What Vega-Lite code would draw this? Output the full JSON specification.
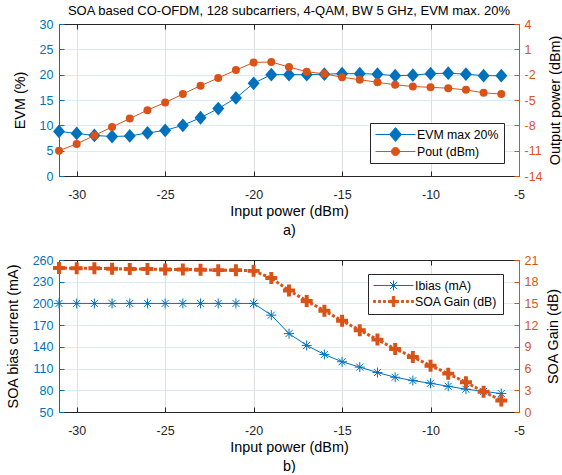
{
  "$schema": "https://vega.github.io/schema/vega-lite/v6.json",
  "background": "white",
  "padding": {"left": 5, "top": 5, "right": 0, "bottom": 0},
  "config": {
    "font": "Liberation Sans",
    "view": {"stroke": null},
    "axis": {
      "labelFont": "Liberation Sans",
      "labelFontSize": 12.5,
      "titleFont": "Liberation Sans",
      "titleFontSize": 14.4,
      "titleFontWeight": "normal",
      "titleColor": "#000000",
      "tickSize": -5,
      "tickWidth": 1,
      "domainWidth": 1,
      "labelFlush": false,
      "labelOverlap": false,
      "labelExpr": "'' + datum.value"
    },
    "legend": {
      "labelFont": "Liberation Sans",
      "labelFontSize": 12.3,
      "labelColor": "#000000",
      "strokeColor": "#262626",
      "fillColor": "#ffffff",
      "padding": 5,
      "rowPadding": 1,
      "symbolSize": 144,
      "symbolStrokeWidth": 1,
      "symbolOffset": 14,
      "labelOffset": 15
    }
  },
  "datasets": {
    "evmPanel": [
      {"p": -31, "s": "EVM max 20%", "v": 8.8},
      {"p": -30, "s": "EVM max 20%", "v": 8.4},
      {"p": -29, "s": "EVM max 20%", "v": 8.0},
      {"p": -28, "s": "EVM max 20%", "v": 7.8},
      {"p": -27, "s": "EVM max 20%", "v": 7.9},
      {"p": -26, "s": "EVM max 20%", "v": 8.5},
      {"p": -25, "s": "EVM max 20%", "v": 9.0},
      {"p": -24, "s": "EVM max 20%", "v": 10.0},
      {"p": -23, "s": "EVM max 20%", "v": 11.5},
      {"p": -22, "s": "EVM max 20%", "v": 13.3},
      {"p": -21, "s": "EVM max 20%", "v": 15.4},
      {"p": -20, "s": "EVM max 20%", "v": 18.3},
      {"p": -19, "s": "EVM max 20%", "v": 20.0},
      {"p": -18, "s": "EVM max 20%", "v": 20.0},
      {"p": -17, "s": "EVM max 20%", "v": 20.0},
      {"p": -16, "s": "EVM max 20%", "v": 20.1},
      {"p": -15, "s": "EVM max 20%", "v": 20.2},
      {"p": -14, "s": "EVM max 20%", "v": 20.2},
      {"p": -13, "s": "EVM max 20%", "v": 20.1},
      {"p": -12, "s": "EVM max 20%", "v": 19.8},
      {"p": -11, "s": "EVM max 20%", "v": 19.9},
      {"p": -10, "s": "EVM max 20%", "v": 20.2},
      {"p": -9, "s": "EVM max 20%", "v": 20.3},
      {"p": -8, "s": "EVM max 20%", "v": 20.1},
      {"p": -7, "s": "EVM max 20%", "v": 19.8},
      {"p": -6, "s": "EVM max 20%", "v": 19.8},
      {"p": -31, "s": "Pout (dBm)", "v": -11.0},
      {"p": -30, "s": "Pout (dBm)", "v": -10.2},
      {"p": -29, "s": "Pout (dBm)", "v": -9.2},
      {"p": -28, "s": "Pout (dBm)", "v": -8.2},
      {"p": -27, "s": "Pout (dBm)", "v": -7.2},
      {"p": -26, "s": "Pout (dBm)", "v": -6.2},
      {"p": -25, "s": "Pout (dBm)", "v": -5.3},
      {"p": -24, "s": "Pout (dBm)", "v": -4.3},
      {"p": -23, "s": "Pout (dBm)", "v": -3.3},
      {"p": -22, "s": "Pout (dBm)", "v": -2.4},
      {"p": -21, "s": "Pout (dBm)", "v": -1.45},
      {"p": -20, "s": "Pout (dBm)", "v": -0.55},
      {"p": -19, "s": "Pout (dBm)", "v": -0.5},
      {"p": -18, "s": "Pout (dBm)", "v": -1.1},
      {"p": -17, "s": "Pout (dBm)", "v": -1.65},
      {"p": -16, "s": "Pout (dBm)", "v": -1.9},
      {"p": -15, "s": "Pout (dBm)", "v": -2.3},
      {"p": -14, "s": "Pout (dBm)", "v": -2.6},
      {"p": -13, "s": "Pout (dBm)", "v": -2.9},
      {"p": -12, "s": "Pout (dBm)", "v": -3.2},
      {"p": -11, "s": "Pout (dBm)", "v": -3.4},
      {"p": -10, "s": "Pout (dBm)", "v": -3.5},
      {"p": -9, "s": "Pout (dBm)", "v": -3.6},
      {"p": -8, "s": "Pout (dBm)", "v": -3.8},
      {"p": -7, "s": "Pout (dBm)", "v": -4.15},
      {"p": -6, "s": "Pout (dBm)", "v": -4.3}
    ],
    "soaPanel": [
      {"p": -31, "s": "Ibias (mA)", "v": 200},
      {"p": -30, "s": "Ibias (mA)", "v": 200},
      {"p": -29, "s": "Ibias (mA)", "v": 200},
      {"p": -28, "s": "Ibias (mA)", "v": 200},
      {"p": -27, "s": "Ibias (mA)", "v": 200},
      {"p": -26, "s": "Ibias (mA)", "v": 200},
      {"p": -25, "s": "Ibias (mA)", "v": 200},
      {"p": -24, "s": "Ibias (mA)", "v": 200},
      {"p": -23, "s": "Ibias (mA)", "v": 200},
      {"p": -22, "s": "Ibias (mA)", "v": 200},
      {"p": -21, "s": "Ibias (mA)", "v": 200},
      {"p": -20, "s": "Ibias (mA)", "v": 200},
      {"p": -19, "s": "Ibias (mA)", "v": 183.8},
      {"p": -18, "s": "Ibias (mA)", "v": 158.3},
      {"p": -17, "s": "Ibias (mA)", "v": 142},
      {"p": -16, "s": "Ibias (mA)", "v": 129.5},
      {"p": -15, "s": "Ibias (mA)", "v": 119.4},
      {"p": -14, "s": "Ibias (mA)", "v": 112},
      {"p": -13, "s": "Ibias (mA)", "v": 104.5},
      {"p": -12, "s": "Ibias (mA)", "v": 98},
      {"p": -11, "s": "Ibias (mA)", "v": 93.4},
      {"p": -10, "s": "Ibias (mA)", "v": 89.7},
      {"p": -9, "s": "Ibias (mA)", "v": 85.5},
      {"p": -8, "s": "Ibias (mA)", "v": 81.5},
      {"p": -7, "s": "Ibias (mA)", "v": 78.5},
      {"p": -6, "s": "Ibias (mA)", "v": 75.5},
      {"p": -31, "s": "SOA Gain (dB)", "v": 19.9},
      {"p": -30, "s": "SOA Gain (dB)", "v": 19.85},
      {"p": -29, "s": "SOA Gain (dB)", "v": 19.85},
      {"p": -28, "s": "SOA Gain (dB)", "v": 19.8},
      {"p": -27, "s": "SOA Gain (dB)", "v": 19.75},
      {"p": -26, "s": "SOA Gain (dB)", "v": 19.75},
      {"p": -25, "s": "SOA Gain (dB)", "v": 19.7},
      {"p": -24, "s": "SOA Gain (dB)", "v": 19.7},
      {"p": -23, "s": "SOA Gain (dB)", "v": 19.65},
      {"p": -22, "s": "SOA Gain (dB)", "v": 19.6},
      {"p": -21, "s": "SOA Gain (dB)", "v": 19.6},
      {"p": -20, "s": "SOA Gain (dB)", "v": 19.5},
      {"p": -19, "s": "SOA Gain (dB)", "v": 18.5},
      {"p": -18, "s": "SOA Gain (dB)", "v": 16.8},
      {"p": -17, "s": "SOA Gain (dB)", "v": 15.35},
      {"p": -16, "s": "SOA Gain (dB)", "v": 14.0},
      {"p": -15, "s": "SOA Gain (dB)", "v": 12.6},
      {"p": -14, "s": "SOA Gain (dB)", "v": 11.3},
      {"p": -13, "s": "SOA Gain (dB)", "v": 10.0},
      {"p": -12, "s": "SOA Gain (dB)", "v": 8.7},
      {"p": -11, "s": "SOA Gain (dB)", "v": 7.6},
      {"p": -10, "s": "SOA Gain (dB)", "v": 6.4},
      {"p": -9, "s": "SOA Gain (dB)", "v": 5.3},
      {"p": -8, "s": "SOA Gain (dB)", "v": 4.1},
      {"p": -7, "s": "SOA Gain (dB)", "v": 2.8},
      {"p": -6, "s": "SOA Gain (dB)", "v": 1.6}
    ]
  },
  "spacing": 17,
  "resolve": {"scale": {"fill": "independent", "stroke": "independent", "shape": "independent"}},
  "vconcat": [
    {
      "width": 460,
      "height": 152,
      "title": {
        "text": "SOA based CO-OFDM, 128 subcarriers, 4-QAM, BW 5 GHz, EVM max. 20%",
        "fontSize": 13,
        "fontWeight": "normal",
        "color": "#000000",
        "anchor": "middle",
        "frame": "group",
        "offset": 0
      },
      "data": {"name": "evmPanel"},
      "resolve": {"scale": {"y": "independent"}, "axis": {"x": "independent"}},
      "layer": [
        {
          "transform": [{"filter": "datum.s === 'EVM max 20%'"}],
          "encoding": {
            "x": {
              "field": "p", "type": "quantitative",
              "scale": {"domain": [-31, -5], "nice": false, "zero": false},
              "axis": {
                "orient": "bottom", "values": [-30, -25, -20, -15, -10, -5],
                "title": ["Input power (dBm)", "a)"], "titleLineHeight": 19, "titlePadding": 4,
                "grid": true, "gridColor": "#dfdfdf",
                "domainColor": "#262626", "tickColor": "#262626", "labelColor": "#262626",
                "labelPadding": 17
              }
            },
            "y": {
              "field": "v", "type": "quantitative",
              "scale": {"domain": [0, 30], "nice": false, "zero": false},
              "axis": {
                "orient": "left", "values": [0, 5, 10, 15, 20, 25, 30], "title": "EVM (%)",
                "grid": true, "gridColor": "#d9eaf5",
                "domainColor": "#0072BD", "tickColor": "#0072BD", "labelColor": "#0072BD",
                "labelPadding": 11, "titlePadding": 12
              }
            }
          },
          "layer": [
            {"mark": {"type": "line", "color": "#0072BD", "strokeWidth": 1}},
            {"mark": {"type": "point", "shape": "M0,-1.15L1,0L0,1.15L-1,0Z", "filled": true, "size": 144, "color": "#0072BD", "opacity": 1}}
          ]
        },
        {
          "transform": [{"filter": "datum.s === 'Pout (dBm)'"}],
          "encoding": {
            "x": {
              "field": "p", "type": "quantitative",
              "axis": {
                "orient": "top", "values": [-30, -25, -20, -15, -10, -5], "title": null,
                "labels": false, "grid": false, "domainColor": "#262626", "tickColor": "#262626"
              }
            },
            "y": {
              "field": "v", "type": "quantitative",
              "scale": {"domain": [-14, 4], "nice": false, "zero": false},
              "axis": {
                "orient": "right", "values": [-14, -11, -8, -5, -2, 1, 4], "title": "Output power (dBm)",
                "titleAngle": 270, "titleBaseline": "top", "grid": false,
                "domainColor": "#D95319", "tickColor": "#D95319", "labelColor": "#D95319",
                "labelPadding": 10, "titlePadding": 6
              }
            }
          },
          "layer": [
            {"mark": {"type": "line", "color": "#D95319", "strokeWidth": 1}},
            {"mark": {"type": "point", "shape": "circle", "filled": true, "size": 64, "color": "#D95319", "opacity": 1}},
            {
              "transform": [{"filter": "false"}],
              "mark": {"type": "point", "filled": true, "opacity": 1, "size": 144, "strokeWidth": 1},
              "encoding": {
                "fill": {
                  "field": "s", "type": "nominal",
                  "scale": {"domain": ["EVM max 20%", "Pout (dBm)"], "range": ["#0072BD", "#D95319"]},
                  "legend": {"title": null, "orient": "none", "legendX": 311, "legendY": 99}
                },
                "stroke": {
                  "field": "s", "type": "nominal",
                  "scale": {"domain": ["EVM max 20%", "Pout (dBm)"], "range": ["#0072BD", "#D95319"]},
                  "legend": {"title": null, "orient": "none", "legendX": 311, "legendY": 99}
                },
                "shape": {
                  "field": "s", "type": "nominal",
                  "scale": {
                    "domain": ["EVM max 20%", "Pout (dBm)"],
                    "range": [
                      "M-3.33,0H3.33M0,-1.15L1,0L0,1.15L-1,0Z",
                      "M-3.33,0H3.33M0.67,0A0.67,0.67,0,1,1,-0.67,0A0.67,0.67,0,1,1,0.67,0Z"
                    ]
                  },
                  "legend": {"title": null, "orient": "none", "legendX": 311, "legendY": 99}
                }
              }
            }
          ]
        }
      ]
    },
    {
      "width": 460,
      "height": 152,
      "data": {"name": "soaPanel"},
      "resolve": {"scale": {"y": "independent"}, "axis": {"x": "independent"}},
      "layer": [
        {
          "transform": [{"filter": "datum.s === 'Ibias (mA)'"}],
          "encoding": {
            "x": {
              "field": "p", "type": "quantitative",
              "scale": {"domain": [-31, -5], "nice": false, "zero": false},
              "axis": {
                "orient": "bottom", "values": [-30, -25, -20, -15, -10, -5],
                "title": ["Input power (dBm)", "b)"], "titleLineHeight": 19, "titlePadding": 4,
                "grid": true, "gridColor": "#dfdfdf",
                "domainColor": "#262626", "tickColor": "#262626", "labelColor": "#262626",
                "labelPadding": 17
              }
            },
            "y": {
              "field": "v", "type": "quantitative",
              "scale": {"domain": [50, 260], "nice": false, "zero": false},
              "axis": {
                "orient": "left", "values": [50, 80, 110, 140, 170, 200, 230, 260], "title": "SOA bias current (mA)",
                "grid": true, "gridColor": "#d9eaf5",
                "domainColor": "#0072BD", "tickColor": "#0072BD", "labelColor": "#0072BD",
                "labelPadding": 11, "titlePadding": 12
              }
            }
          },
          "layer": [
            {"mark": {"type": "line", "color": "#0072BD", "strokeWidth": 1}},
            {"mark": {"type": "point", "shape": "M-1,0H1M0,-1V1M-0.7,-0.7L0.7,0.7M-0.7,0.7L0.7,-0.7", "filled": false, "size": 100, "strokeWidth": 1, "color": "#0072BD", "opacity": 1}}
          ]
        },
        {
          "transform": [{"filter": "datum.s === 'SOA Gain (dB)'"}],
          "encoding": {
            "x": {
              "field": "p", "type": "quantitative",
              "axis": {
                "orient": "top", "values": [-30, -25, -20, -15, -10, -5], "title": null,
                "labels": false, "grid": false, "domainColor": "#262626", "tickColor": "#262626"
              }
            },
            "y": {
              "field": "v", "type": "quantitative",
              "scale": {"domain": [0, 21], "nice": false, "zero": false},
              "axis": {
                "orient": "right", "values": [0, 3, 6, 9, 12, 15, 18, 21], "title": "SOA Gain (dB)",
                "titleAngle": 270, "titleBaseline": "top", "grid": false,
                "domainColor": "#D95319", "tickColor": "#D95319", "labelColor": "#D95319",
                "labelPadding": 10, "titlePadding": 9
              }
            }
          },
          "layer": [
            {"mark": {"type": "line", "color": "#D95319", "strokeWidth": 3, "strokeDash": [3, 2]}},
            {"mark": {"type": "point", "shape": "M-1,-0.33H-0.33V-1H0.33V-0.33H1V0.33H0.33V1H-0.33V0.33H-1Z", "filled": true, "size": 144, "color": "#D95319", "opacity": 1}},
            {
              "transform": [{"filter": "false"}],
              "mark": {"type": "point", "filled": true, "opacity": 1, "size": 144, "strokeWidth": 1},
              "encoding": {
                "fill": {
                  "field": "s", "type": "nominal",
                  "scale": {"domain": ["Ibias (mA)", "SOA Gain (dB)"], "range": ["#0072BD", "#D95319"]},
                  "legend": {"title": null, "orient": "none", "legendX": 309, "legendY": 14}
                },
                "stroke": {
                  "field": "s", "type": "nominal",
                  "scale": {"domain": ["Ibias (mA)", "SOA Gain (dB)"], "range": ["#0072BD", "#D95319"]},
                  "legend": {"title": null, "orient": "none", "legendX": 309, "legendY": 14}
                },
                "shape": {
                  "field": "s", "type": "nominal",
                  "scale": {
                    "domain": ["Ibias (mA)", "SOA Gain (dB)"],
                    "range": [
                      "M-3.33,0H3.33M-0.83,0H0.83M0,-0.83V0.83M-0.59,-0.59L0.59,0.59M-0.59,0.59L0.59,-0.59",
                      "M-3.33,-0.17h0.33v0.33h-0.33ZM-2.5,-0.17h0.33v0.33h-0.33ZM-1.67,-0.17h0.33v0.33h-0.33ZM1.33,-0.17h0.33v0.33h-0.33ZM2.17,-0.17h0.33v0.33h-0.33ZM3,-0.17h0.33v0.33h-0.33ZM-0.83,-0.2H-0.2V-0.83H0.2V-0.2H0.83V0.2H0.2V0.83H-0.2V0.2H-0.83Z"
                    ]
                  },
                  "legend": {"title": null, "orient": "none", "legendX": 309, "legendY": 14}
                }
              }
            }
          ]
        }
      ]
    }
  ]
}
